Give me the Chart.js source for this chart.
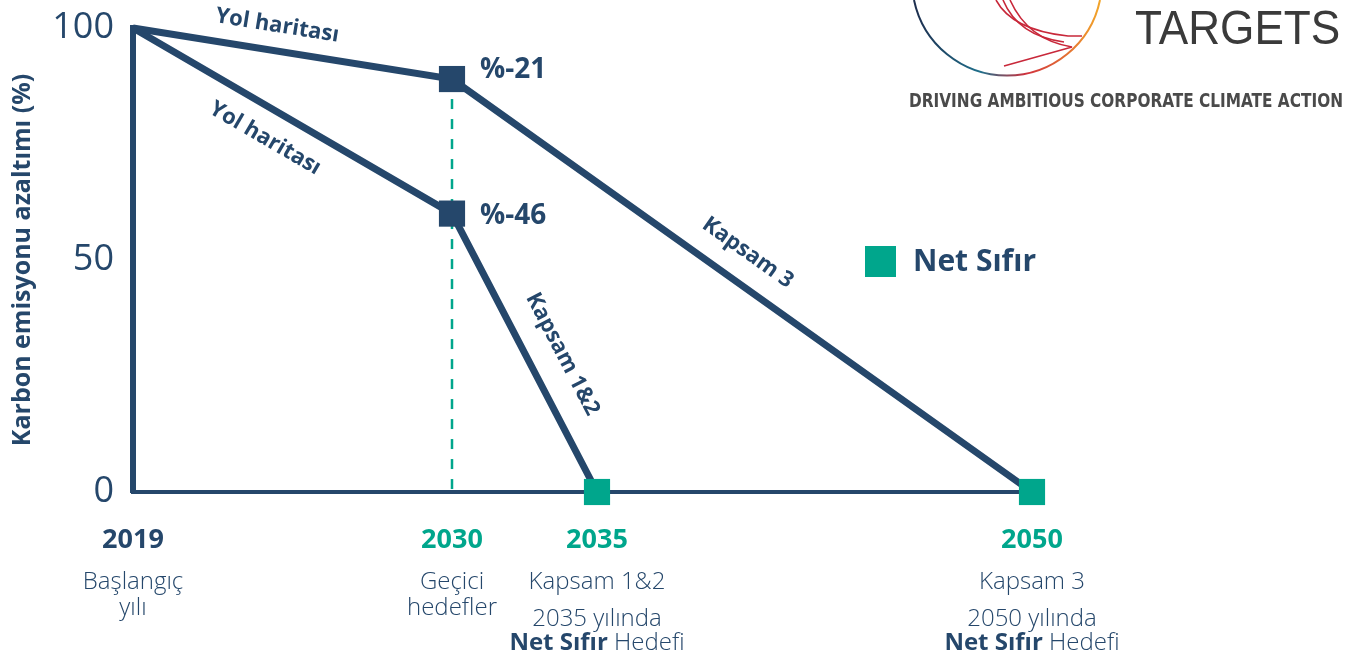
<!DOCTYPE html>
<html lang="tr">
<head>
<meta charset="utf-8">
<title>Net Sıfır yol haritası</title>
<script src="https://cdn.jsdelivr.net/npm/chart.js@4.4.1/dist/chart.umd.min.js"></script>
<style>
  html, body { margin: 0; padding: 0; background: #fff; }
  #wrap { position: relative; width: 1347px; height: 667px; overflow: hidden; }
  #chart { position: absolute; left: 0; top: 0; }
  #logoMark { position: absolute; left: 0; top: 0; }
  .logo-word {
    position: absolute; left: 1135px; top: 4px;
    font: 48px/48px 'Liberation Sans', Arial, sans-serif;
    color: #3a3a3a; transform: scaleX(0.92); transform-origin: left top;
    white-space: nowrap;
  }
  .logo-tag {
    position: absolute; left: 909px; top: 88px;
    font: bold 19px/24px 'DejaVu Sans Condensed', 'Liberation Sans Narrow', sans-serif;
    color: #4a4a4a; white-space: nowrap; transform-origin: left top;
  }
</style>
</head>
<body>
<div id="wrap">
  <canvas id="chart" width="1347" height="667"></canvas>
  <svg id="logoMark" width="1347" height="120" viewBox="0 0 1347 120">
    <defs>
      <linearGradient id="ring" x1="916" y1="0" x2="1100" y2="0" gradientUnits="userSpaceOnUse">
        <stop offset="0" stop-color="#1d2f4f"/>
        <stop offset="0.35" stop-color="#1f6f8b"/>
        <stop offset="0.6" stop-color="#d1313d"/>
        <stop offset="1" stop-color="#f2a52a"/>
      </linearGradient>
    </defs>
    <path d="M 914 0 A 95 95 0 0 0 1100 0" fill="none" stroke="url(#ring)" stroke-width="2"/>
    <g fill="none" stroke="#c8283a" stroke-width="1.6">
      <path d="M 996 0 Q 1012 30 1068 36 L 1082 36"/>
      <path d="M 1003 0 Q 1018 36 1064 42"/>
      <path d="M 1010 0 Q 1028 40 1072 47 Q 1040 56 1004 66"/>
    </g>
  </svg>
  <div class="logo-word">TARGETS</div>
  <div class="logo-tag" id="logoTag">DRIVING AMBITIOUS CORPORATE CLIMATE ACTION</div>
</div>
<script>
const NAVY = '#25476b';
const TEAL = '#00a68c';
const FONT = "'Open Sans', sans-serif";

// x axis milestones and the notes printed under them
const years = [2019, 2030, 2035, 2050];
const yearNotes = [['Başlangıç', 'yılı'], ['Geçici', 'hedefler'], ['Kapsam 1&2'], ['Kapsam 3']];
const targetNotes = ['', '', '2035 yılında', '2050 yılında'];
const targetBold = 'Net Sıfır';
const targetRest = ' Hedefi';

// emission paths (% of base year)
const scope3Years = [2019, 2030, 2050];
const scope3Values = [100, 89, 0];
const scope12Years = [2019, 2030, 2035];
const scope12Values = [100, 60, 0];
const netZeroYears = [2035, 2050];
const netZeroValues = [0, 0];

const milestoneLabels = ['%-21', '%-46'];
const pathNames = ['Yol haritası', 'Kapsam 3', 'Yol haritası', 'Kapsam 1&2'];
const yTicks = [0, 50, 100];

function toPoints(xs, ys) {
  return xs.map((x, i) => ({ x, y: ys[i] }));
}

// squeeze the logo strapline to the width it has in the original
const tag = document.getElementById('logoTag');
tag.style.transform = `scaleX(${434 / tag.getBoundingClientRect().width})`;

// label placement along a segment: dataset, segment index, fraction, normal offset
const pathLabelSpots = [
  [1, 0, 0.44, -25],
  [1, 1, 0.48, -30],
  [2, 0, 0.46, 29],
  [2, 1, 0.56, -33]
];

const overlayPlugin = {
  id: 'overlay',
  afterDatasetsDraw(chart) {
    const { ctx, scales: { x } } = chart;
    ctx.save();
    ctx.fillStyle = NAVY;

    // rotated names along the lines
    ctx.font = `bold 22px ${FONT}`;
    ctx.textAlign = 'center';
    ctx.textBaseline = 'middle';
    pathLabelSpots.forEach(([ds, seg, t, off], i) => {
      const pts = chart.getDatasetMeta(ds).data;
      const p0 = pts[seg];
      const p1 = pts[seg + 1];
      const dx = p1.x - p0.x;
      const dy = p1.y - p0.y;
      const len = Math.hypot(dx, dy);
      const cx = p0.x + t * dx - off * dy / len;
      const cy = p0.y + t * dy + off * dx / len;
      ctx.save();
      ctx.translate(cx, cy);
      ctx.rotate(Math.atan2(dy, dx));
      ctx.fillText(pathNames[i], 0, 0);
      ctx.restore();
    });

    // reduction labels next to 2030 markers
    ctx.font = `bold 28px ${FONT}`;
    ctx.textAlign = 'left';
    const shifts = [-9, 2];
    [1, 2].forEach((ds, i) => {
      const p = chart.getDatasetMeta(ds).data[1];
      ctx.fillText(milestoneLabels[i], p.x + 28, p.y + shifts[i]);
    });

    // legend
    const area = chart.chartArea;
    ctx.fillStyle = TEAL;
    ctx.fillRect(865, 246, 31, 31);
    ctx.fillStyle = NAVY;
    ctx.font = `bold 30px ${FONT}`;
    ctx.fillText(chart.data.datasets[0].label, 913, 262);

    // x milestones
    ctx.textAlign = 'center';
    const light = `300 24px ${FONT}`;
    const heavy = `bold 24px ${FONT}`;
    years.forEach((yr, i) => {
      const px = x.getPixelForValue(yr);
      ctx.fillStyle = i === 0 ? NAVY : TEAL;
      ctx.font = `bold 27px ${FONT}`;
      ctx.fillText(String(yr), px, area.bottom + 48);
      ctx.fillStyle = NAVY;
      ctx.font = light;
      yearNotes[i].forEach((line, k) => {
        ctx.fillText(line, px, area.bottom + 90 + k * 26);
      });
      if (targetNotes[i]) {
        ctx.fillText(targetNotes[i], px, area.bottom + 127);
        ctx.font = heavy;
        const wb = ctx.measureText(targetBold).width;
        ctx.font = light;
        const wr = ctx.measureText(targetRest).width;
        const left = px - (wb + wr) / 2;
        ctx.textAlign = 'left';
        ctx.font = heavy;
        ctx.fillText(targetBold, left, area.bottom + 151);
        ctx.font = light;
        ctx.fillText(targetRest, left + wb, area.bottom + 151);
        ctx.textAlign = 'center';
      }
    });
    ctx.restore();
  }
};

new Chart(document.getElementById('chart'), {
  type: 'line',
  data: {
    datasets: [
      {
        label: 'Net Sıfır',
        data: toPoints(netZeroYears, netZeroValues),
        showLine: false,
        pointStyle: 'rect',
        pointRadius: 18.5,
        pointBackgroundColor: TEAL,
        pointBorderWidth: 0,
        clip: false
      },
      {
        label: 'Kapsam 3',
        data: toPoints(scope3Years, scope3Values),
        borderColor: NAVY,
        borderWidth: 7,
        tension: 0,
        pointStyle: 'rect',
        pointRadius: [0, 18.5, 0],
        pointBackgroundColor: NAVY,
        pointBorderWidth: 0,
        clip: false
      },
      {
        label: 'Kapsam 1&2',
        data: toPoints(scope12Years, scope12Values),
        borderColor: NAVY,
        borderWidth: 7,
        tension: 0,
        pointStyle: 'rect',
        pointRadius: [0, 18.5, 0],
        pointBackgroundColor: NAVY,
        pointBorderWidth: 0,
        clip: false
      },
      {
        label: 'Ara hedef',
        data: [{ x: years[1], y: scope3Values[1] }, { x: years[1], y: 0 }],
        borderColor: TEAL,
        borderWidth: 2.5,
        borderDash: [10, 10],
        pointRadius: 0,
        clip: false
      }
    ]
  },
  options: {
    responsive: false,
    animation: false,
    layout: { padding: { left: 0, right: 315, top: 28, bottom: 175 } },
    plugins: {
      legend: { display: false },
      tooltip: { enabled: false }
    },
    scales: {
      x: {
        type: 'linear',
        min: 2019,
        max: 2050,
        grid: { display: false, drawTicks: false },
        border: { display: true, color: NAVY, width: 4 },
        ticks: { display: false },
        afterFit(scale) { scale.height = 0; }
      },
      y: {
        min: 0,
        max: 100,
        afterBuildTicks(scale) { scale.ticks = yTicks.map(v => ({ value: v })); },
        grid: { display: false, drawTicks: false },
        border: { display: true, color: NAVY, width: 6 },
        ticks: { color: NAVY, font: { family: FONT, size: 36 }, padding: 19 },
        title: {
          display: true,
          text: 'Karbon emisyonu azaltımı (%)',
          color: NAVY,
          font: { family: FONT, size: 25, weight: 'bold' },
          padding: { top: 8, bottom: 0 }
        },
        afterFit(scale) {
          scale.width = 133;
          scale.paddingTop = 0;
          scale.paddingBottom = 0;
        }
      }
    }
  },
  plugins: [overlayPlugin]
});
</script>
</body>
</html>
